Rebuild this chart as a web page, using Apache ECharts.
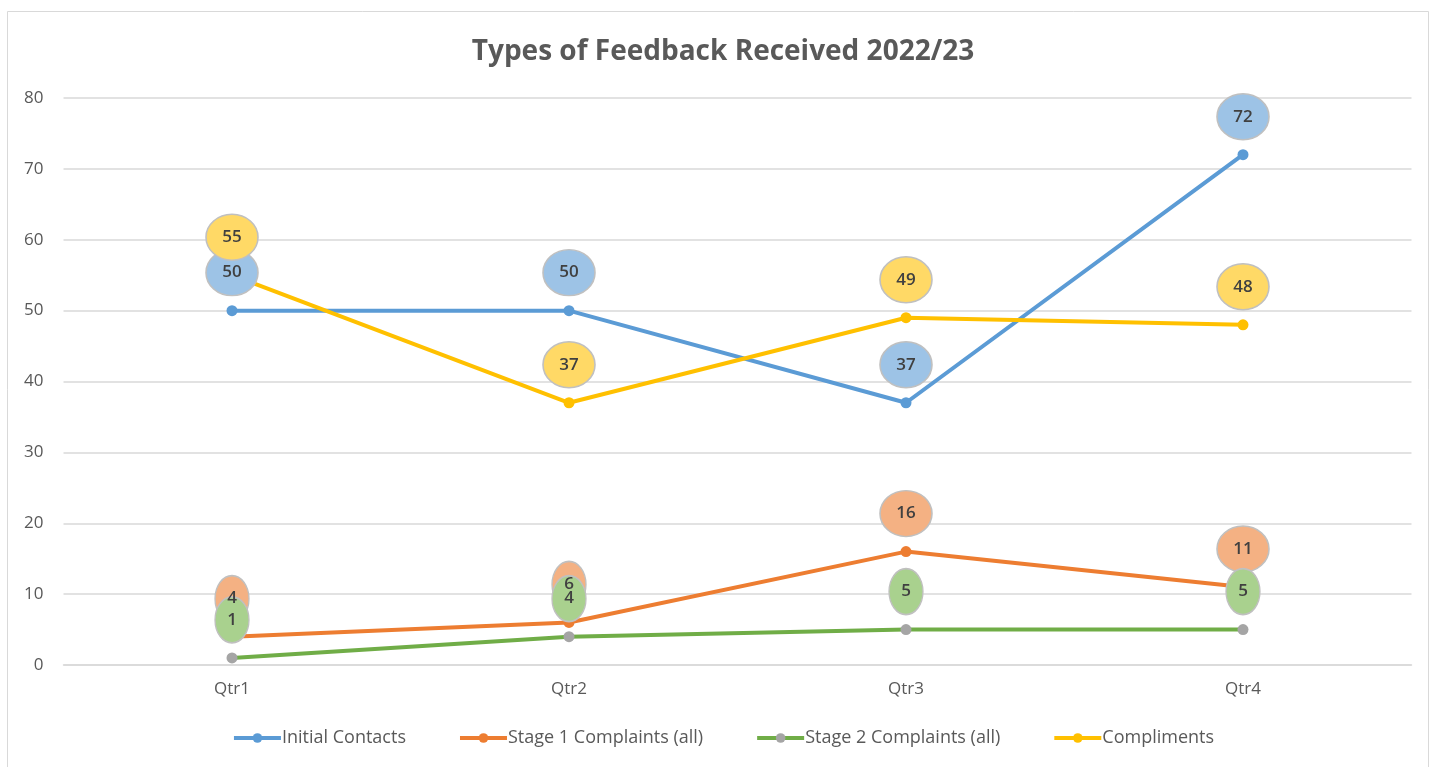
<!DOCTYPE html>
<html>
<head>
<meta charset="utf-8">
<script src="https://cdn.jsdelivr.net/npm/echarts@6/dist/echarts.min.js"></script>
<style>
  html, body { margin: 0; padding: 0; background: #fff; }
  #chart { width: 1446px; height: 767px; }
</style>
</head>
<body>
<div id="chart"></div>
<script>
  // data
  var quarters = ['Qtr1', 'Qtr2', 'Qtr3', 'Qtr4'];
  var initialContacts = [50, 50, 37, 72];
  var stage1 = [4, 6, 16, 11];
  var stage2 = [1, 4, 5, 5];
  var compliments = [55, 37, 49, 48];

  var font = '"Open Sans", "Noto Sans", sans-serif';
  var ellipse = 'path://M0,1A1,1 0 1,1 2,1A1,1 0 1,1 0,1Z';

  function lineSeries(name, data, color, markColor) {
    return {
      name: name,
      type: 'line',
      data: data,
      symbol: 'circle',
      symbolSize: 11,
      z: 2,
      lineStyle: { color: color, width: 4 },
      itemStyle: { color: markColor || color },
      color: color
    };
  }

  // the bubble labels above each point
  function bubbles(data, fill) {
    return {
      type: 'scatter',
      data: data,
      symbol: ellipse,
      symbolSize: function (v) { return String(v).length > 1 ? [52, 46] : [34, 46]; },
      symbolOffset: [0, -38],
      z: 5,
      silent: true,
      itemStyle: { color: fill, borderColor: '#c0c0c0', borderWidth: 1.5, opacity: 1 },
      label: {
        show: true,
        position: 'inside',
        color: '#404040',
        fontFamily: font,
        fontWeight: 600,
        fontSize: 17
      },
      tooltip: { show: false }
    };
  }

  var chart = echarts.init(document.getElementById('chart'));
  chart.setOption({
    animation: false,
    backgroundColor: '#fff',
    graphic: [{
      type: 'rect',
      shape: { x: 7.5, y: 11.5, width: 1421, height: 770 },
      style: { fill: 'none', stroke: '#d9d9d9', lineWidth: 1 },
      silent: true
    }],
    title: {
      text: 'Types of Feedback Received 2022/23',
      left: 'center',
      top: 33,
      textStyle: { fontFamily: font, fontSize: 28, fontWeight: 'bold', color: '#595959' }
    },
    legend: {
      bottom: 15,
      left: 'center',
      itemGap: 52,
      itemWidth: 47,
      itemHeight: 12,
      lineStyle: { width: 4 },
      textStyle: { fontFamily: font, fontSize: 18, color: '#595959', padding: [0, 0, 0, -4] },
      data: ['Initial Contacts', 'Stage 1 Complaints (all)', 'Stage 2 Complaints (all)', 'Compliments']
    },
    grid: { left: 63.5, right: 34.5, top: 98, bottom: 102, containLabel: false },
    xAxis: {
      type: 'category',
      data: quarters,
      boundaryGap: true,
      axisLine: { lineStyle: { color: '#d9d9d9', width: 1.5 } },
      axisTick: { show: false },
      axisLabel: { fontFamily: font, fontSize: 17, color: '#595959', margin: 16 }
    },
    yAxis: {
      type: 'value',
      min: 0,
      max: 80,
      interval: 10,
      axisLine: { show: false },
      axisTick: { show: false },
      splitLine: { lineStyle: { color: '#d9d9d9', width: 1.5 } },
      axisLabel: { fontFamily: font, fontSize: 17, color: '#595959', margin: 20 }
    },
    series: [
      lineSeries('Initial Contacts', initialContacts, '#5b9bd5'),
      lineSeries('Stage 1 Complaints (all)', stage1, '#ed7d31'),
      lineSeries('Stage 2 Complaints (all)', stage2, '#70ad47', '#a5a5a5'),
      lineSeries('Compliments', compliments, '#ffc000'),
      bubbles(initialContacts, '#9dc3e6'),
      bubbles(stage1, '#f4b183'),
      bubbles(stage2, '#a9d18e'),
      bubbles(compliments, '#ffd966')
    ]
  });
</script>
</body>
</html>
